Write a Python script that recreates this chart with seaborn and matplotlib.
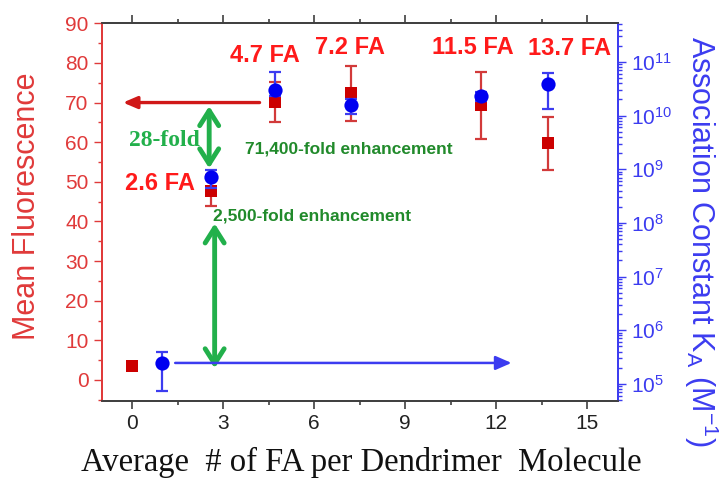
import matplotlib
matplotlib.use("Agg")
import matplotlib.pyplot as plt
import matplotlib.ticker as mticker
import seaborn as sns
import pandas as pd
import numpy as np

# ---------------- data ----------------
fa_fluor = [0, 2.6, 4.7, 7.2, 11.5, 13.7]
mean_fluor = [3.5, 47.8, 70.2, 72.3, 69.3, 59.7]
fluor_err = [0, 4.0, 5.0, 7.0, 8.4, 6.7]

fa_ka = [1, 2.6, 4.7, 7.2, 11.5, 13.7]
ka = [2.45e5, 7.1e8, 3.0e10, 1.55e10, 2.3e10, 3.8e10]
ka_err_low = [1.7e5, 2.7e8, 0.7e10, 0.5e10, 0.4e10, 2.5e10]
ka_err_high = [1.55e5, 2.7e8, 3.5e10, 0.5e10, 0.4e10, 2.5e10]

fa_labels = ["2.6 FA", "4.7 FA", "7.2 FA", "11.5 FA", "13.7 FA"]
fa_label_x = [0.92, 4.39, 7.19, 11.23, 14.41]
fa_label_y = [49.7, 81.8, 84.0, 83.9, 83.7]

x_ticks = [0, 3, 6, 9, 12, 15]
y_ticks = [0, 10, 20, 30, 40, 50, 60, 70, 80, 90]

# ---------------- style ----------------
sns.set_style("ticks")
plt.rcParams["font.family"] = ["Liberation Sans", "DejaVu Sans"]
plt.rcParams["mathtext.default"] = "regular"

RED = "#cc0000"
RED_ERR = "#d23a3a"
RED_TXT = "#ff1a1a"
RED_AX = "#e03a3a"
BLUE = "#0000f0"
BLUE_AX = "#3c3cf0"
GREEN = "#22b04b"
DGREEN = "#218a2b"
GRAY = "#404040"

fig = plt.figure(figsize=(7.22, 4.83), dpi=100)
ax = fig.add_axes([0.1409, 0.1698, 0.7147, 0.7820])
ax2 = ax.twinx()

df_f = pd.DataFrame({"x": fa_fluor, "y": mean_fluor, "e": fluor_err})
df_k = pd.DataFrame({"x": fa_ka, "y": ka})

# red: mean fluorescence
ax.errorbar(df_f["x"], df_f["y"], yerr=df_f["e"], fmt="none", ecolor=RED_ERR,
            elinewidth=1.6, capsize=4.5, capthick=1.6, zorder=2)
sns.scatterplot(data=df_f, x="x", y="y", ax=ax, marker="s", s=80, color=RED,
                edgecolor=RED, linewidth=0, zorder=3, legend=False)

# blue: association constant
ax2.set_yscale("log")
ax2.errorbar(df_k["x"], df_k["y"], yerr=[ka_err_low, ka_err_high], fmt="none",
             ecolor=BLUE_AX, elinewidth=1.6, capsize=4.5, capthick=1.6, zorder=2)
sns.scatterplot(data=df_k, x="x", y="y", ax=ax2, marker="o", s=105, color=BLUE,
                edgecolor=BLUE, linewidth=0, zorder=3, legend=False)

# limits
ax.set_xlim(-1, 16)
ax.set_ylim(-5.3, 90)
ax2.set_ylim(10 ** 4.68, 10 ** 11.72)

# arrows
ax.annotate("", xy=(-0.3, 70), xytext=(4.2, 70),
            arrowprops=dict(arrowstyle="-|>,head_length=0.7,head_width=0.3",
                            color="#d01818", lw=2.4, shrinkA=0, shrinkB=0,
                            mutation_scale=12))
ax2.annotate("", xy=(12.5, ka[0]), xytext=(1.42, ka[0]),
             arrowprops=dict(arrowstyle="-|>,head_length=0.8,head_width=0.35",
                             color=BLUE_AX, lw=1.8, shrinkA=0, shrinkB=0,
                             mutation_scale=12))
ax.annotate("", xy=(2.54, 69.1), xytext=(2.54, 53.4),
            arrowprops=dict(arrowstyle="<->,head_length=0.6,head_width=0.38",
                            color=GREEN, lw=3.5, shrinkA=0, shrinkB=0,
                            mutation_scale=18))
ax.annotate("", xy=(2.72, 39.5), xytext=(2.72, 2.95),
            arrowprops=dict(arrowstyle="<->,head_length=0.6,head_width=0.38",
                            color=GREEN, lw=3.5, shrinkA=0, shrinkB=0,
                            mutation_scale=18))

# texts
for lab, lx, ly in zip(fa_labels, fa_label_x, fa_label_y):
    ax.text(lx, ly, lab, color=RED_TXT, fontsize=17, fontweight="bold",
            ha="center", va="center", zorder=5)
ax.text(1.06, 60.3, "28-fold", color=GREEN, fontsize=17, fontweight="bold",
        family=["Liberation Serif", "DejaVu Serif"], ha="center", va="center")
ax.text(7.15, 58.3, "71,400-fold enhancement", color=DGREEN, fontsize=12.5,
        fontweight="bold", ha="center", va="center")
ax.text(5.93, 41.3, "2,500-fold enhancement", color=DGREEN, fontsize=12.5,
        fontweight="bold", ha="center", va="center", zorder=6)

# axes styling
ax.set_xticks(x_ticks)
ax.xaxis.set_minor_locator(mticker.MultipleLocator(1.5))
ax.set_yticks(y_ticks)
ax.yaxis.set_minor_locator(mticker.MultipleLocator(5))
ax.tick_params(axis="x", which="both", direction="out", colors=GRAY,
               labelsize=15, top=True, labelcolor="#222222")
ax.tick_params(axis="x", which="major", length=6, width=1.2)
ax.tick_params(axis="x", which="minor", length=3, width=1.2)
ax.tick_params(axis="y", which="both", direction="out", colors=RED_AX,
               labelsize=15, width=1.0)
ax.tick_params(axis="y", which="major", length=6)
ax.tick_params(axis="y", which="minor", length=3)
ax.set_xlabel("")
ax.set_ylabel("Mean Fluorescence", color=RED_AX, fontsize=22)
ax.yaxis.set_label_coords(-0.115, 0.516)

ax2.yaxis.set_major_locator(mticker.LogLocator(base=10, numticks=20))
ax2.yaxis.set_minor_locator(mticker.LogLocator(base=10, subs=np.arange(2, 10), numticks=20))
ax2.yaxis.set_minor_formatter(mticker.NullFormatter())
ax2.tick_params(axis="y", which="both", direction="out", colors=BLUE_AX,
                labelsize=15, width=1.0)
ax2.tick_params(axis="y", which="major", length=6)
ax2.tick_params(axis="y", which="minor", length=3)
ax2.set_ylabel("")
ax2.set_xlabel("")

for a in (ax, ax2):
    a.spines["top"].set_color(GRAY)
    a.spines["bottom"].set_color(GRAY)
    a.spines["left"].set_color(RED_AX)
    a.spines["right"].set_color(BLUE_AX)
    for s in a.spines.values():
        s.set_linewidth(1.3)
        s.set_visible(True)

fig.text(701 / 722, 1 - 241 / 483, "Association Constant K$_A$ (M$^{-1}$)",
         color=BLUE_AX, fontsize=22, rotation=270, ha="center", va="center")

fig.text(0.5, 1 - 471 / 483, "Average  # of FA per Dendrimer  Molecule",
         family=["Liberation Serif", "DejaVu Serif"], fontsize=23.5,
         color="#111111", ha="center", va="baseline")

fig.savefig("out.png", dpi=100)
